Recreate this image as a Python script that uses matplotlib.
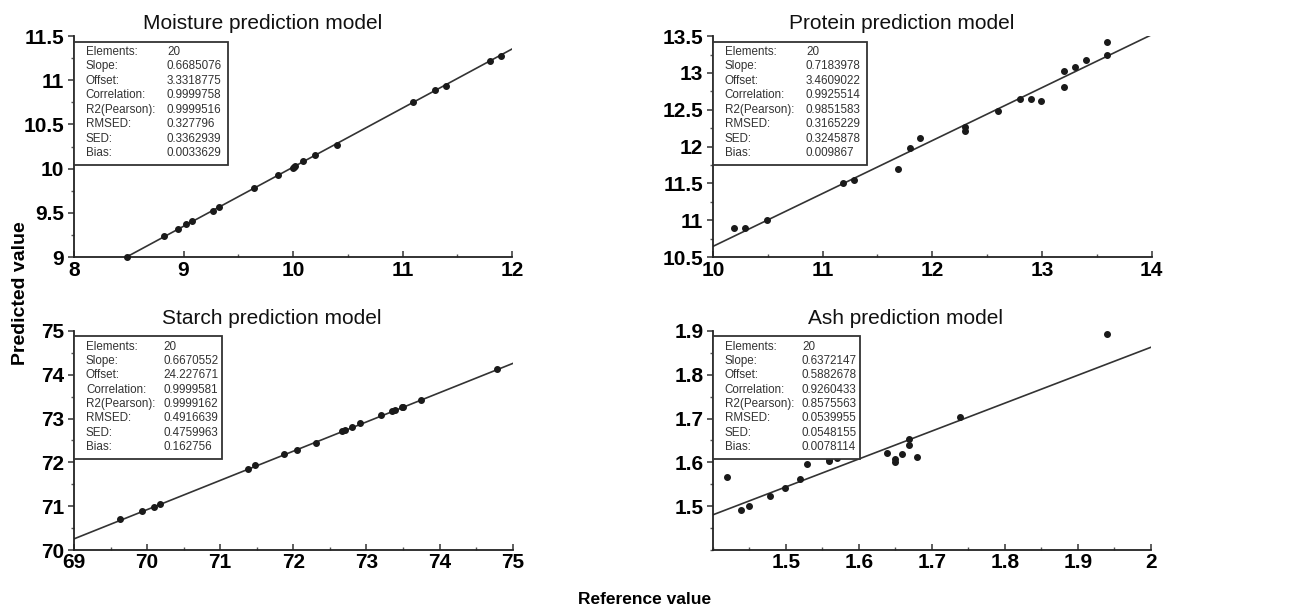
import numpy as np
import matplotlib
matplotlib.use('Agg')
import matplotlib.pyplot as plt
from matplotlib.patches import Rectangle
from matplotlib.ticker import MultipleLocator, FuncFormatter

plt.rcParams['font.family'] = ['Liberation Sans', 'DejaVu Sans']

# ---- data ----
stat_names = ['Elements:', 'Slope:', 'Offset:', 'Correlation:', 'R2(Pearson):',
              'RMSED:', 'SED:', 'Bias:']

moist_ref = [8.48, 8.82, 8.95, 9.02, 9.08, 9.27, 9.32, 9.64, 9.86, 10.0, 10.01, 10.02,
             10.09, 10.2, 10.4, 11.1, 11.3, 11.4, 11.8, 11.9]
moist_pred = [9.0, 9.24, 9.32, 9.37, 9.41, 9.52, 9.57, 9.78, 9.93, 10.01, 10.02, 10.03,
              10.09, 10.15, 10.27, 10.75, 10.89, 10.94, 11.22, 11.28]
moist_stats = ['20', '0.6685076', '3.3318775', '0.9999758', '0.9999516',
               '0.327796', '0.3362939', '0.0033629']

prot_ref = [10.19, 10.29, 10.49, 11.19, 11.29, 11.69, 11.8, 11.89, 12.3, 12.3,
            12.6, 12.8, 12.9, 12.99, 13.2, 13.2, 13.3, 13.4, 13.59, 13.59]
prot_pred = [10.9, 10.9, 11.0, 11.51, 11.55, 11.69, 11.98, 12.11, 12.26, 12.21,
             12.48, 12.64, 12.64, 12.62, 12.81, 13.02, 13.08, 13.18, 13.42, 13.24]
prot_stats = ['20', '0.7183978', '3.4609022', '0.9925514', '0.9851583',
              '0.3165229', '0.3245878', '0.009867']

starch_ref = [69.63, 69.93, 70.09, 70.17, 71.38, 71.48, 71.87, 72.05, 72.31, 72.67,
              72.7, 72.8, 72.91, 73.2, 73.35, 73.39, 73.48, 73.5, 73.74, 74.78]
starch_pred = [70.71, 70.89, 70.99, 71.06, 71.86, 71.93, 72.2, 72.29, 72.45, 72.72,
               72.74, 72.81, 72.9, 73.07, 73.17, 73.19, 73.27, 73.27, 73.43, 74.14]
starch_stats = ['20', '0.6670552', '24.227671', '0.9999581', '0.9999162',
                '0.4916639', '0.4759963', '0.162756']

ash_ref = [1.419, 1.439, 1.449, 1.478, 1.499, 1.519, 1.529, 1.559, 1.559, 1.57,
           1.639, 1.65, 1.65, 1.659, 1.669, 1.669, 1.68, 1.739, 1.94]
ash_pred = [1.567, 1.492, 1.501, 1.523, 1.541, 1.563, 1.596, 1.603, 1.607, 1.61,
            1.622, 1.607, 1.6, 1.618, 1.653, 1.639, 1.613, 1.703, 1.894]
ash_stats = ['20', '0.6372147', '0.5882678', '0.9260433', '0.8575563',
             '0.0539955', '0.0548155', '0.0078114']

fig = plt.figure(figsize=(12.9, 6.12), dpi=100)

# axes rect, limits, ticks, title, stats box width and value column
panels = [
    dict(rect=[0.0574, 0.580, 0.3395, 0.361], xlim=(8, 12), ylim=(9, 11.5),
         xt=np.arange(8, 12.1, 1), yt=np.arange(9, 11.6, 0.5), xm=0.5, ym=0.25,
         title='Moisture prediction model', tx=0.43, bw=0.352, vx=0.212,
         x=moist_ref, y=moist_pred, st=moist_stats),
    dict(rect=[0.5527, 0.580, 0.340, 0.361], xlim=(10, 14), ylim=(10.5, 13.5),
         xt=np.arange(10, 14.1, 1), yt=np.arange(10.5, 13.6, 0.5), xm=0.5, ym=0.25,
         title='Protein prediction model', tx=0.43, bw=0.351, vx=0.212,
         x=prot_ref, y=prot_pred, st=prot_stats),
    dict(rect=[0.0574, 0.1013, 0.340, 0.358], xlim=(69, 75), ylim=(70, 75),
         xt=np.arange(69, 75.1, 1), yt=np.arange(70, 75.1, 1), xm=0.5, ym=0.5,
         title='Starch prediction model', tx=0.45, bw=0.337, vx=0.203,
         x=starch_ref, y=starch_pred, st=starch_stats),
    dict(rect=[0.5527, 0.1013, 0.3395, 0.358], xlim=(1.4, 2.0), ylim=(1.4, 1.9),
         xt=np.arange(1.5, 2.01, 0.1), yt=np.arange(1.5, 1.91, 0.1), xm=0.05, ym=0.05,
         title='Ash prediction model', tx=0.44, bw=0.336, vx=0.203,
         x=ash_ref, y=ash_pred, st=ash_stats),
]

fmt = FuncFormatter(lambda v, p: '{:g}'.format(round(v, 3)))

for p in panels:
    ax = fig.add_axes(p['rect'])
    ax.set_xlim(*p['xlim'])
    ax.set_ylim(*p['ylim'])
    ax.spines['top'].set_visible(False)
    ax.spines['right'].set_visible(False)
    for s in ['left', 'bottom']:
        ax.spines[s].set_linewidth(1.3)
        ax.spines[s].set_color('#222222')
    ax.set_xticks(p['xt'])
    ax.set_yticks(p['yt'])
    ax.xaxis.set_minor_locator(MultipleLocator(p['xm']))
    ax.yaxis.set_minor_locator(MultipleLocator(p['ym']))
    ax.xaxis.set_major_formatter(fmt)
    ax.yaxis.set_major_formatter(fmt)
    ax.tick_params(axis='y', which='major', direction='out', length=4, width=1.1,
                   color='#333333', labelsize=15, pad=3)
    ax.tick_params(axis='y', which='minor', direction='out', length=2.5, width=1.0,
                   color='#555555')
    ax.tick_params(axis='x', which='major', direction='in', length=4, width=1.1,
                   color='#333333', labelsize=15, pad=2.5)
    ax.tick_params(axis='x', which='minor', direction='in', length=2.5, width=1.0,
                   color='#555555')
    for lab in ax.get_xticklabels() + ax.get_yticklabels():
        lab.set_fontweight('bold')

    # regression line from slope and offset
    slope = float(p['st'][1])
    offset = float(p['st'][2])
    lx = np.array(p['xlim'])
    ax.plot(lx, slope * lx + offset, color='#333333', lw=1.2, zorder=2)
    ax.scatter(p['x'], p['y'], s=16, color='#1a1a1a', zorder=3, clip_on=False)

    ax.annotate(p['title'], xy=(p['tx'], 1.0), xycoords='axes fraction',
                xytext=(0, 2), textcoords='offset points', ha='center',
                va='bottom', fontsize=15, color='#111111')

    # statistics box
    top = 0.975
    bot = 0.416
    ax.add_patch(Rectangle((0, bot), p['bw'], top - bot, transform=ax.transAxes,
                           facecolor='white', edgecolor='#333333', lw=1.3,
                           zorder=4, clip_on=False))
    step = (top - bot) / 8.55
    for i, (name, val) in enumerate(zip(stat_names, p['st'])):
        yy = top - step * (i + 0.72)
        ax.text(0.027, yy, name, transform=ax.transAxes, fontsize=8.4,
                color='#333333', va='center', zorder=5)
        ax.text(p['vx'], yy, val, transform=ax.transAxes, fontsize=8.4,
                color='#333333', va='center', zorder=5)

fig.text(0.016, 0.521, 'Predicted value', rotation=90, ha='center', va='center',
         fontsize=14, fontweight='bold')
fig.text(0.5, 0.02, 'Reference value', ha='center', va='center',
         fontsize=12.5, fontweight='bold')

fig.savefig('out.png', dpi=100)
